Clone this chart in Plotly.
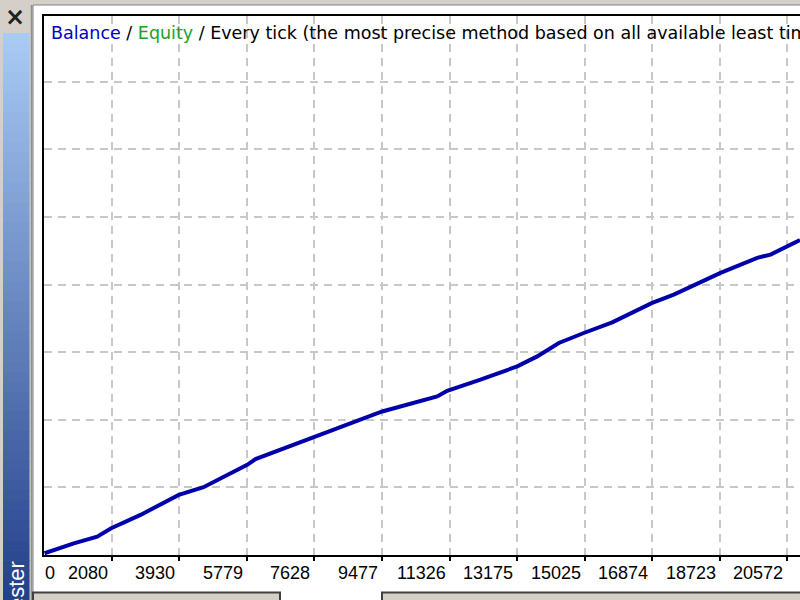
import plotly.graph_objects as go

# ---- data ----
trade_no = [244, 1046, 1686, 2069, 2871, 3919, 4594, 5790, 6017, 7432, 9484, 10988, 11262,
            12173, 13177, 13725, 14316, 14999, 15777, 16871, 17462, 18740, 19744, 20108, 20882, 20914]
balance = [10025, 10173, 10271, 10396, 10593, 10889, 11003, 11333, 11418, 11704, 12123, 12345, 12430,
           12593, 12790, 12938, 13136, 13284, 13441, 13729, 13852, 14173, 14396, 14444, 14641, 14659]
x_tick_vals = [2080, 3930, 5779, 7628, 9477, 11326, 13175, 15025, 16874, 18723, 20572]
x_tick_text = ["2080", "3930", "5779", "7628", "9477", "11326", "13175", "15025", "16874", "18723", "20572"]
y_grid_vals = [11000, 12000, 13000, 14000, 15000, 16000, 17000]
x_start_label = "0"
legend_balance = "Balance"
legend_equity = "Equity"
model_text = "Every tick (the most precise method based on all available least timeframes to generate each tick)"
side_tab = "Tester"

# ---- layout geometry (pixels) ----
W, H = 800, 600
L, R, T, B = 44, 800, 16, 555
X0, X1 = 230.5, 230.5 + (R - L) * 1849.5 / 67.6
Y0, Y1 = 10000, 10000 + (B - T) * 1000 / 67.6


def px(x):
    return (x - L) / (R - L)


def py(y):
    return (B - y) / (B - T)


GRAY = "#d4d0c8"

fig = go.Figure()
fig.add_trace(go.Scatter(x=trade_no, y=balance, mode="lines",
                         line=dict(color="#0000aa", width=4), hoverinfo="skip",
                         showlegend=False))

shapes = []
# white panel
shapes.append(dict(type="rect", xref="paper", yref="paper", x0=px(33), x1=px(810), y0=py(5), y1=py(610),
                   fillcolor="white", line=dict(color="#808080", width=1), layer="below"))
# blue side tab gradient
top_c = (168, 202, 244)
bot_c = (35, 64, 138)
n = 57
for i in range(n):
    y_a = 33 + i * (600 - 33) / n
    y_b = 33 + (i + 1) * (600 - 33) / n
    t = i / (n - 1)
    c = tuple(int(round(top_c[k] + (bot_c[k] - top_c[k]) * t)) for k in range(3))
    shapes.append(dict(type="rect", xref="paper", yref="paper", x0=px(3), x1=px(29.5),
                       y0=py(y_a), y1=py(y_b + 0.6), fillcolor="rgb(%d,%d,%d)" % c,
                       line=dict(width=0), layer="below"))
shapes.append(dict(type="line", xref="paper", yref="paper", x0=px(31.5), x1=px(31.5), y0=py(5), y1=py(600),
                   line=dict(color="#909090", width=1.5), layer="below"))
# bottom buttons
shapes.append(dict(type="rect", xref="paper", yref="paper", x0=px(33), x1=px(280), y0=py(592.5), y1=py(615),
                   fillcolor=GRAY, line=dict(color="#404040", width=2), layer="above"))
shapes.append(dict(type="rect", xref="paper", yref="paper", x0=px(382), x1=px(815), y0=py(592.5), y1=py(615),
                   fillcolor=GRAY, line=dict(color="#404040", width=2), layer="above"))

annotations = []
annotations.append(dict(xref="paper", yref="paper", x=px(49), y=py(33.5), xanchor="left", yanchor="middle",
                        showarrow=False,
                        text="<span style='color:#0000c8'>%s</span> / <span style='color:#22a022'>%s</span> / %s"
                             % (legend_balance, legend_equity, model_text),
                        font=dict(family="DejaVu Sans", size=17.5, color="black")))
for v, s in zip(x_tick_vals, x_tick_text):
    annotations.append(dict(xref="x", yref="paper", x=v, y=py(572.5), xanchor="right", yanchor="middle",
                            xshift=-2, showarrow=False, text=s,
                            font=dict(family="Liberation Sans, Arial", size=18, color="black")))
annotations.append(dict(xref="x", yref="paper", x=X0, y=py(572.5), xanchor="left", yanchor="middle",
                        xshift=-1, showarrow=False, text=x_start_label,
                        font=dict(family="Liberation Sans, Arial", size=18, color="black")))
annotations.append(dict(xref="paper", yref="paper", x=px(15), y=py(17), xanchor="center", yanchor="middle",
                        showarrow=False, text="<b>×</b>",
                        font=dict(family="DejaVu Sans", size=24, color="#202020")))
annotations.append(dict(xref="paper", yref="paper", x=px(16), y=py(559), xanchor="center", yanchor="top",
                        showarrow=False, text=side_tab, textangle=-90,
                        font=dict(family="Liberation Sans, Arial", size=22, color="white")))

fig.update_layout(
    width=W, height=H,
    margin=dict(l=L, r=W - R, t=T, b=H - B, pad=0),
    paper_bgcolor=GRAY, plot_bgcolor="white",
    shapes=shapes, annotations=annotations,
    xaxis=dict(range=[X0, X1], tickvals=x_tick_vals, ticktext=x_tick_text, showticklabels=False,
               ticks="outside", ticklen=4, tickwidth=2, tickcolor="black",
               showgrid=True, gridcolor="#c8c8c8", gridwidth=1.5, griddash="8px,6px",
               showline=True, linecolor="black", linewidth=2, mirror=True, zeroline=False),
    yaxis=dict(range=[Y0, Y1], tickvals=y_grid_vals, showticklabels=False, ticks="",
               showgrid=True, gridcolor="#c8c8c8", gridwidth=1.5, griddash="8px,6px",
               showline=True, linecolor="black", linewidth=2, mirror=False, zeroline=False),
)

fig.write_html("out.html")
